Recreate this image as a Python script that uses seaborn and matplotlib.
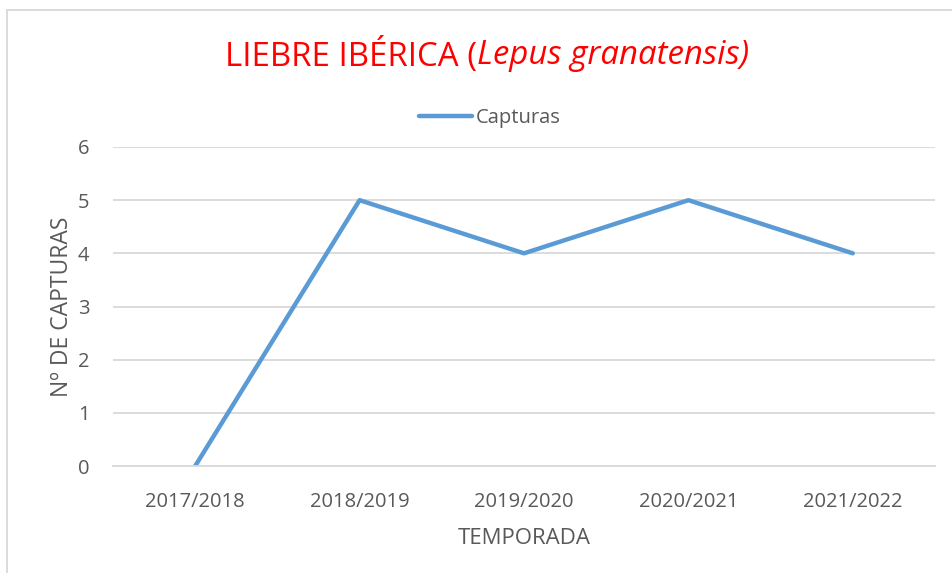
import matplotlib
matplotlib.use("Agg")
import matplotlib.pyplot as plt
import seaborn as sns
import pandas as pd
from matplotlib.lines import Line2D

temporadas = ["2017/2018", "2018/2019", "2019/2020", "2020/2021", "2021/2022"]
capturas = [0, 5, 4, 5, 4]
y_ticks = [0, 1, 2, 3, 4, 5, 6]

sns.set_theme(style="white")
plt.rcParams['font.family'] = ['Open Sans', 'DejaVu Sans']

df = pd.DataFrame({"Temporada": temporadas, "Capturas": capturas})

fig = plt.figure(figsize=(9.52, 5.73), dpi=100)
ax = fig.add_axes([113/952, 1-466/573, 822/952, 319/573])

sns.lineplot(data=df, x="Temporada", y="Capturas", ax=ax, color="#5B9BD5",
             linewidth=3.2, label="Capturas", sort=False)

ax.set_xlim(-0.5, len(temporadas) - 0.5)
ax.set_ylim(0, 6)
ax.set_yticks(y_ticks)
ax.yaxis.grid(True, color="#D9D9D9", linewidth=1.3)
ax.set_axisbelow(True)
for s in ["top", "right", "left"]:
    ax.spines[s].set_visible(False)
ax.spines["bottom"].set_color("#D9D9D9")
ax.spines["bottom"].set_linewidth(1.3)
ax.tick_params(axis="both", length=0, labelsize=14.5, labelcolor="#595959")
ax.tick_params(axis="x", pad=19)
ax.tick_params(axis="y", pad=17)

ax.set_xlabel("TEMPORADA", fontsize=16, color="#595959", labelpad=11)
ax.set_ylabel("Nº DE CAPTURAS", fontsize=16.5, color="#595959", labelpad=3)

leg = ax.legend(loc="center", bbox_to_anchor=(490/952, 1-118/573),
                bbox_transform=fig.transFigure, frameon=False, fontsize=14.5,
                handlelength=2.6, handletextpad=0.2)
for t in leg.get_texts():
    t.set_color("#595959")

# Title with mixed styles
fig.canvas.draw()
renderer = fig.canvas.get_renderer()
ty = 1 - 56/573
t1 = fig.text(0, ty, "LIEBRE IBÉRICA (", fontsize=23.8, color="#FF0000", va="center", ha="left")
t2 = fig.text(0, ty, "Lepus granatensis)", fontsize=23.8, color="#FF0000", va="center", ha="left", style="italic")
w1 = t1.get_window_extent(renderer).width
w2 = t2.get_window_extent(renderer).width
total = w1 + w2
x0 = 487 - total / 2
t1.set_x(x0 / 952)
t2.set_x((x0 + w1) / 952)

# chart border (top and left visible)
fig.add_artist(Line2D([7/952, 1.0], [1-10/573, 1-10/573], transform=fig.transFigure, color="#D9D9D9", linewidth=1.3))
fig.add_artist(Line2D([7/952, 7/952], [1-10/573, 0], transform=fig.transFigure, color="#D9D9D9", linewidth=1.3))

fig.savefig("out.png", dpi=100)
